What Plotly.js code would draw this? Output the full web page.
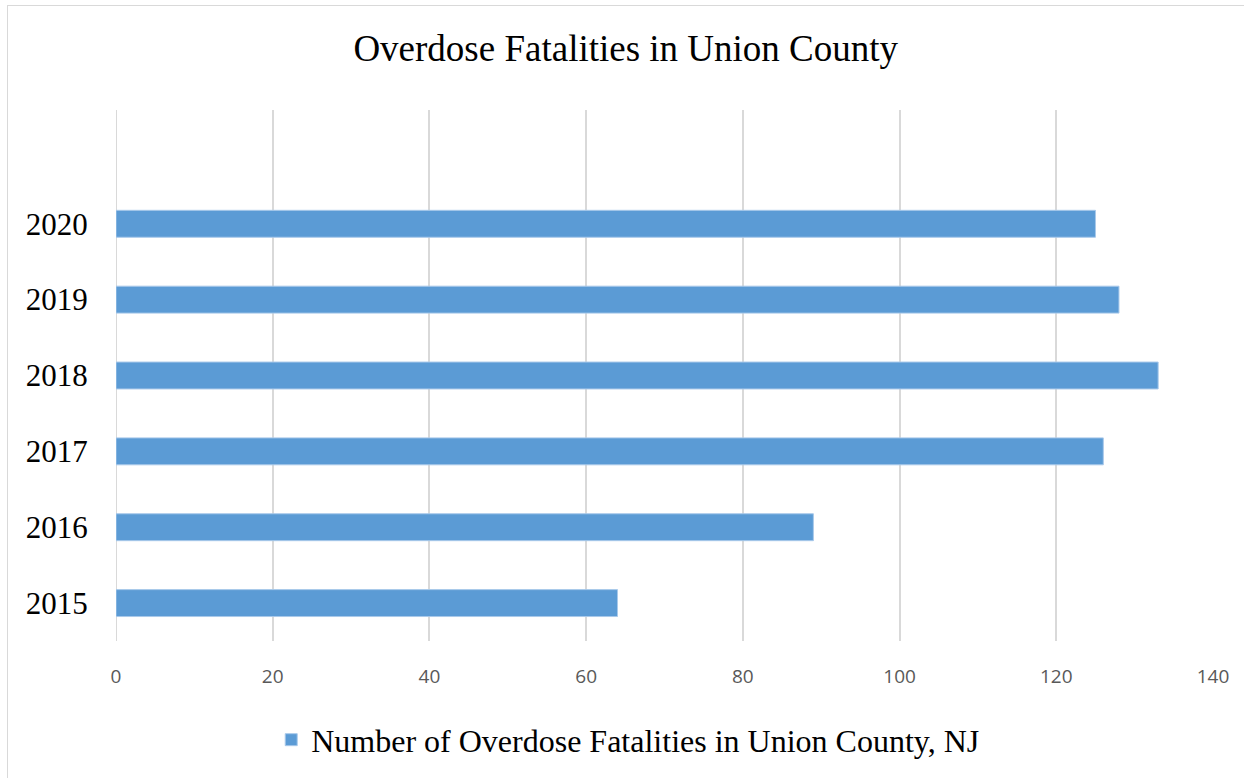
<!DOCTYPE html>
<html>
<head>
<meta charset="utf-8">
<script src="https://cdn.plot.ly/plotly-3.0.1.min.js"></script>
<style>
  html, body { margin: 0; padding: 0; background: #fff; overflow: hidden; }
  #chart { position: absolute; left: 0; top: 0; width: 1244px; height: 778px; }
  #frame { position: absolute; left: 7px; top: 5px; width: 1400px; height: 900px;
           border: 1.5px solid #d9d9d9; pointer-events: none; z-index: 10; }
</style>
</head>
<body>
<div id="chart"></div>
<div id="frame"></div>
<script>
const years = ["2015", "2016", "2017", "2018", "2019", "2020"];
const fatalities = [64, 89, 126, 133, 128, 125];
const seriesName = "Number of Overdose Fatalities in Union County, NJ";
const chartTitle = "Overdose Fatalities in Union County";
const xTicks = [0, 20, 40, 60, 80, 100, 120, 140];

const trace = {
  type: "bar",
  orientation: "h",
  x: fatalities,
  y: years,
  name: seriesName,
  width: 0.355,
  marker: { color: "#5B9BD5", line: { color: "#A9C9EA", width: 1 } },
  hoverinfo: "x+y"
};

const layout = {
  width: 1244,
  height: 778,
  paper_bgcolor: "#ffffff",
  plot_bgcolor: "#ffffff",
  margin: { l: 116, r: 31, t: 110, b: 137 },
  title: {
    text: chartTitle,
    font: { family: "Liberation Serif, Times New Roman, serif", size: 37, color: "#000000" },
    x: 0.503, xanchor: "center", xref: "container",
    y: 0.938, yanchor: "middle", yref: "container"
  },
  xaxis: {
    range: [0, 140],
    tickvals: xTicks,
    ticktext: xTicks.map(String),
    showgrid: true,
    gridcolor: "#d9d9d9",
    gridwidth: 2,
    zeroline: false,
    showline: false,
    ticks: "outside",
    ticklen: 18,
    tickcolor: "rgba(0,0,0,0)",
    tickfont: { family: "Open Sans, sans-serif", size: 19, color: "#595959" },
    fixedrange: true
  },
  yaxis: {
    type: "category",
    categoryorder: "array",
    categoryarray: years,
    range: [-0.5, 6.5],
    showgrid: false,
    zeroline: false,
    showline: false,
    ticks: "outside",
    ticklen: 21,
    tickcolor: "rgba(0,0,0,0)",
    tickfont: { family: "Liberation Serif, Times New Roman, serif", size: 31, color: "#000000" },
    fixedrange: true
  },
  showlegend: true,
  legend: {
    orientation: "h",
    x: 0.505, xanchor: "center", xref: "container",
    y: 0.049, yanchor: "middle", yref: "container",
    font: { family: "Liberation Serif, Times New Roman, serif", size: 32, color: "#000000" },
    itemwidth: 30,
    bgcolor: "rgba(0,0,0,0)"
  },
  shapes: [
    { type: "line", xref: "x", yref: "paper", x0: 0, x1: 0, y0: 0, y1: 1,
      line: { color: "#d9d9d9", width: 2 }, layer: "below" }
  ]
};

Plotly.newPlot("chart", [trace], layout, { displayModeBar: false, staticPlot: true });
</script>
</body>
</html>
